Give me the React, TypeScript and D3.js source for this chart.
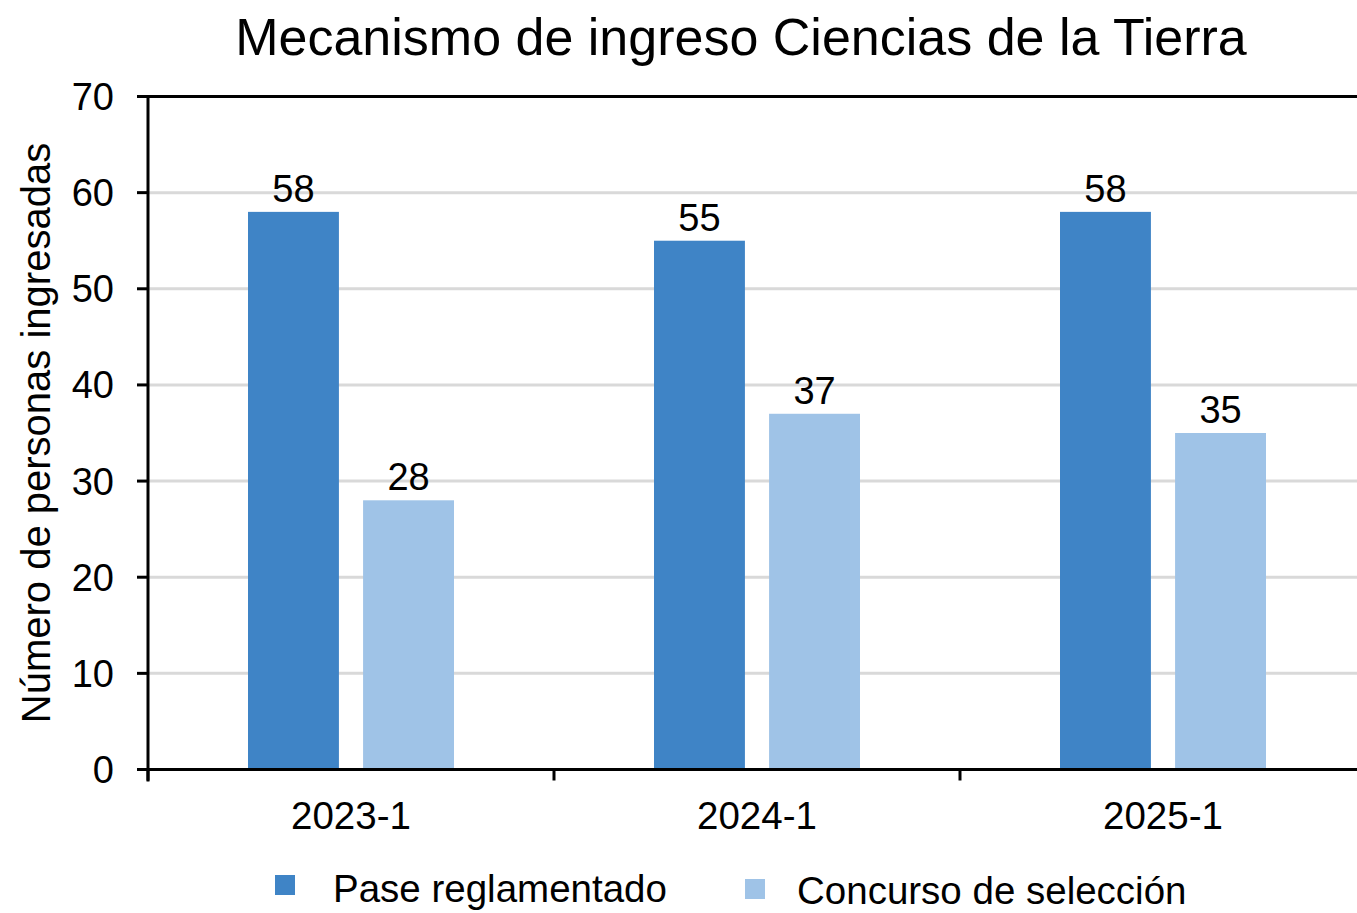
import React from 'react'
import * as d3 from 'd3'

const periods = ['2023-1', '2024-1', '2025-1']
const seriesNames = ['Pase reglamentado', 'Concurso de selección']
const paseValues = [58, 55, 58]
const concursoValues = [28, 37, 35]
const yTicks = [0, 10, 20, 30, 40, 50, 60, 70]

const colors = ['#3f84c6', '#9fc3e7']
const font = '"Liberation Sans", Arial, sans-serif'

const W = 1357
const H = 913
const left = 148
const right = 1366
const top = 96.5
const bottom = 769.5

const App = () => {
    const x0 = d3.scaleBand().domain(periods).range([left, right])
    const groupW = 206
    const x1 = d3.scaleBand().domain(seriesNames).range([0, groupW]).paddingInner(0.21)
    const y = d3.scaleLinear().domain([0, 70]).range([bottom, top])

    const rows = periods.map((p, i) => ({ period: p, values: [paseValues[i], concursoValues[i]] }))

    return (
        <svg width={W} height={H} style={{ position: 'absolute', left: 0, top: 0, background: '#fff' }} fontFamily={font}>
            <text x={741} y={55} fontSize={52} textAnchor="middle">Mecanismo de ingreso Ciencias de la Tierra</text>

            {/* grid */}
            {yTicks.filter(t => t > 0 && t < 70).map(t =>
                <line key={'g' + t} x1={left} x2={W} y1={y(t)} y2={y(t)} stroke="#d9d9d9" strokeWidth={3} />
            )}

            {/* bars */}
            {rows.map(r => {
                const gx = x0(r.period)! + x0.bandwidth() / 2 - groupW / 2
                return (
                    <g key={r.period}>
                        {r.values.map((v, j) =>
                            <g key={j}>
                                <rect x={gx + x1(seriesNames[j])!} y={y(v)} width={x1.bandwidth()} height={y(0) - y(v)} fill={colors[j]} />
                                <text x={gx + x1(seriesNames[j])! + x1.bandwidth() / 2} y={y(v) - 10} fontSize={38} textAnchor="middle">{v}</text>
                            </g>
                        )}
                    </g>
                )
            })}

            {/* y axis */}
            <line x1={left} x2={left} y1={top - 1.5} y2={bottom + 12} stroke="#000" strokeWidth={3} />
            <line x1={left} x2={W} y1={top} y2={top} stroke="#000" strokeWidth={3} />
            {yTicks.map(t =>
                <g key={'y' + t}>
                    <line x1={left - 11} x2={left} y1={y(t)} y2={y(t)} stroke="#000" strokeWidth={3} />
                    <text x={114} y={y(t) + 13.5} fontSize={38} textAnchor="end">{t}</text>
                </g>
            )}
            <text transform={`translate(50,${(top + bottom) / 2}) rotate(-90)`} fontSize={40} textAnchor="middle">Número de personas ingresadas</text>

            {/* x axis */}
            <line x1={left - 11} x2={W} y1={bottom} y2={bottom} stroke="#000" strokeWidth={3} />
            {periods.map(p =>
                <g key={'x' + p}>
                    <line x1={x0(p)!} x2={x0(p)!} y1={bottom} y2={bottom + 11} stroke="#000" strokeWidth={3} />
                    <text x={x0(p)! + x0.bandwidth() / 2} y={829} fontSize={38.5} textAnchor="middle">{p}</text>
                </g>
            )}

            {/* legend */}
            {[{ x: 275, tx: 333, ty: 902, sy: 875 }, { x: 745, tx: 797, ty: 904, sy: 879 }].map((l, j) =>
                <g key={'l' + j}>
                    <rect x={l.x} y={l.sy} width={20} height={20} fill={colors[j]} />
                    <text x={l.tx} y={l.ty} fontSize={38.5}>{seriesNames[j]}</text>
                </g>
            )}
        </svg>
    )
}

export default App
